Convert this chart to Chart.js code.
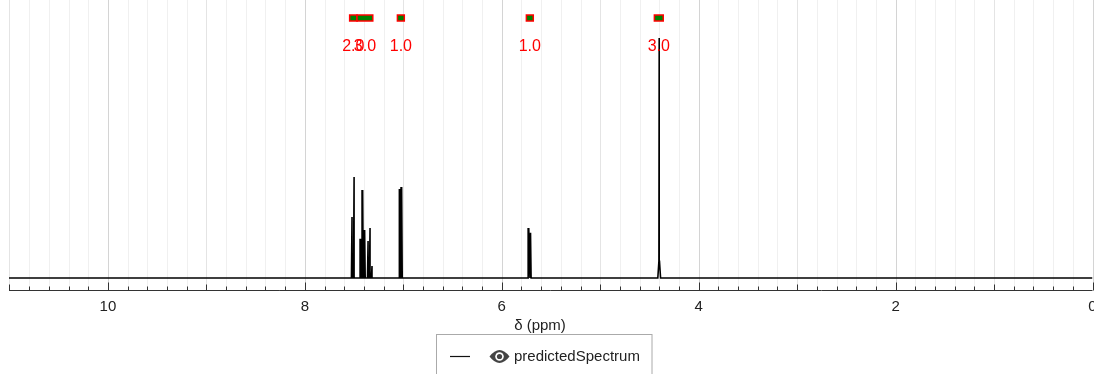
<!DOCTYPE html>
<html>
<head>
<meta charset="utf-8">
<script src="https://cdn.jsdelivr.net/npm/chart.js@4"></script>
<style>
  html, body { margin: 0; padding: 0; background: #fff; }
  #wrap { width: 1094px; height: 374px; position: relative; }
</style>
</head>
<body>
<div id="wrap"><canvas id="spectrum"></canvas></div>
<script>
// peak list (ppm, relative intensity)
const peakShifts = [4.401, 5.708, 5.726, 7.017, 7.034, 7.318, 7.338, 7.358, 7.393, 7.413, 7.433, 7.500, 7.521];
const peakHeights = [1.0, 0.188, 0.208, 0.379, 0.371, 0.05, 0.208, 0.154, 0.20, 0.367, 0.163, 0.421, 0.254];
// half width of each line at its foot (ppm)
const peakFoot = [0.014, 0.006, 0.006, 0.006, 0.006, 0.006, 0.006, 0.006, 0.006, 0.006, 0.006, 0.006, 0.006];

// integration ranges shown above the spectrum
const integFrom = [7.545, 7.47, 7.06, 5.75, 4.45];
const integTo = [7.47, 7.31, 6.99, 5.68, 4.36];
const integValues = ['2.0', '3.0', '1.0', '1.0', '3.0'];

const tickValues = [0, 2, 4, 6, 8, 10];
const tickLabels = ['0', '2', '4', '6', '8', '10'];
const ppmMin = 0, ppmMax = 11.005;

const FONT = "'Liberation Sans', Arial, sans-serif";

// spectrum line: baseline with a narrow spike for each peak
const points = [{ x: ppmMin, y: 0 }];
peakShifts.forEach((p, i) => {
    const w = peakFoot[i];
    points.push({ x: p - w, y: 0 });
    if (w > 0.01) points.push({ x: p - 0.003, y: 0.07 });
    points.push({ x: p, y: peakHeights[i] });
    if (w > 0.01) points.push({ x: p + 0.003, y: 0.07 });
    points.push({ x: p + w, y: 0 });
});
points.push({ x: ppmMax, y: 0 });

const decorations = {
    id: 'decorations',
    beforeDatasetsDraw(chart) {
        const ctx = chart.ctx;
        const xs = chart.scales.x;
        const area = chart.chartArea;
        ctx.save();
        for (let i = 0; i <= 55; i++) {
            const v = i / 5;
            const px = Math.round(xs.getPixelForValue(v)) + 0.5;
            ctx.strokeStyle = (i % 10 === 0) ? '#d4d4d4' : (i % 5 === 0 ? '#e4e4e4' : '#f0f0f0');
            ctx.lineWidth = 1;
            ctx.beginPath();
            ctx.moveTo(px, 0);
            ctx.lineTo(px, area.bottom);
            ctx.stroke();
        }
        ctx.restore();
    },
    afterDraw(chart) {
        const ctx = chart.ctx;
        const xs = chart.scales.x;
        const area = chart.chartArea;
        const axisY = area.bottom + 0.5;
        ctx.save();

        // axis line and tick marks pointing up
        ctx.strokeStyle = '#333';
        ctx.lineWidth = 1;
        ctx.beginPath();
        ctx.moveTo(area.left, axisY);
        ctx.lineTo(area.right, axisY);
        ctx.stroke();
        for (let i = 0; i <= 55; i++) {
            const v = i / 5;
            const px = Math.round(xs.getPixelForValue(v)) + 0.5;
            const len = (i % 10 === 0) ? 8 : (i % 5 === 0 ? 6 : 4);
            ctx.beginPath();
            ctx.moveTo(px, axisY);
            ctx.lineTo(px, axisY - len);
            ctx.stroke();
        }

        // tick labels
        ctx.fillStyle = '#222';
        ctx.font = '15px ' + FONT;
        ctx.textAlign = 'center';
        ctx.textBaseline = 'middle';
        tickValues.forEach((v, i) => {
            ctx.fillText(tickLabels[i], xs.getPixelForValue(v), 307);
        });

        // axis title
        ctx.font = '15px ' + FONT;
        ctx.fillText('δ (ppm)', 540, 326);

        // integrations
        integFrom.forEach((f, i) => {
            const x1 = xs.getPixelForValue(f);
            const x2 = xs.getPixelForValue(integTo[i]);
            const l = Math.min(x1, x2), w = Math.abs(x2 - x1);
            ctx.fillStyle = '#008000';
            ctx.fillRect(l, 15, w, 6);
            ctx.strokeStyle = '#ff0000';
            ctx.lineWidth = 1.5;
            ctx.strokeRect(l, 15, w, 6);
        });
        ctx.fillStyle = '#ff0000';
        ctx.font = '16px ' + FONT;
        integFrom.forEach((f, i) => {
            const cx = xs.getPixelForValue((f + integTo[i]) / 2);
            ctx.fillText(integValues[i], cx, 47);
        });

        // legend box
        ctx.strokeStyle = '#aaa';
        ctx.lineWidth = 1;
        ctx.strokeRect(436.5, 334.5, 215.5, 50);
        ctx.strokeStyle = '#111';
        ctx.lineWidth = 1.2;
        ctx.beginPath();
        ctx.moveTo(450, 356.5);
        ctx.lineTo(470, 356.5);
        ctx.stroke();
        // eye icon
        const ex = 499.5, ey = 356.5;
        ctx.fillStyle = '#444';
        ctx.beginPath();
        ctx.moveTo(ex - 10, ey);
        ctx.quadraticCurveTo(ex, ey - 13, ex + 10, ey);
        ctx.quadraticCurveTo(ex, ey + 13, ex - 10, ey);
        ctx.fill();
        ctx.fillStyle = '#fff';
        ctx.beginPath();
        ctx.arc(ex, ey, 4.3, 0, Math.PI * 2);
        ctx.fill();
        ctx.fillStyle = '#444';
        ctx.beginPath();
        ctx.arc(ex, ey, 2.6, 0, Math.PI * 2);
        ctx.fill();
        ctx.fillStyle = '#222';
        ctx.font = '15px ' + FONT;
        ctx.textAlign = 'left';
        ctx.fillText('predictedSpectrum', 514, 357);

        ctx.restore();
    }
};

new Chart(document.getElementById('spectrum'), {
    type: 'line',
    data: {
        datasets: [{
            label: 'predictedSpectrum',
            data: points,
            borderColor: '#000',
            borderWidth: 1.6,
            pointRadius: 0,
            tension: 0,
            fill: false
        }]
    },
    options: {
        responsive: true,
        maintainAspectRatio: false,
        animation: false,
        layout: { padding: { left: 9, right: 1.5, top: 0, bottom: 84 } },
        scales: {
            x: { type: 'linear', min: ppmMin, max: ppmMax, reverse: true, display: false },
            y: { min: -0.05, max: 1.158, display: false }
        },
        plugins: {
            legend: { display: false },
            tooltip: { enabled: false }
        }
    },
    plugins: [decorations]
});
</script>
</body>
</html>
